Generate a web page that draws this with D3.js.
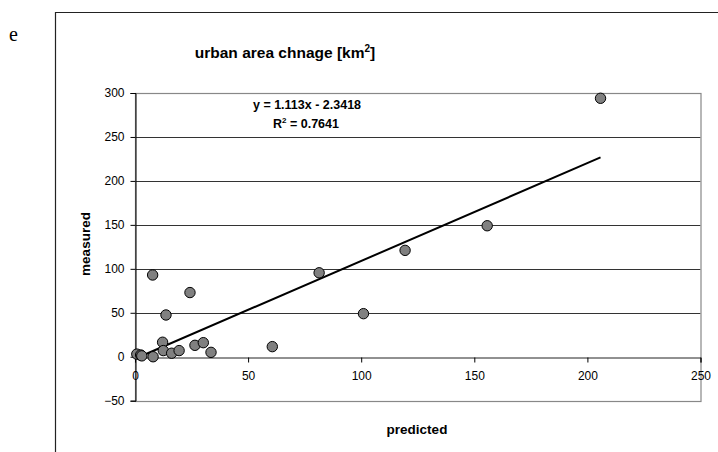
<!DOCTYPE html>
<html><head><meta charset="utf-8">
<script src="https://cdn.jsdelivr.net/npm/d3@7"></script>
<style>body{margin:0;background:#fff}svg{display:block}</style>
</head><body>
<svg id="c" width="718" height="452"></svg>
<script>
const predicted = [0.8, 2.5, 3, 8, 7.8, 24.3, 13.7, 12.2, 12.5, 16.2, 19.5, 26.5, 30.2, 33.6, 60.7, 81.4, 101, 119.4, 155.7, 205.8];
const measured  = [3, 2, 1, 0, 93, 73, 47.5, 16.5, 7, 4, 7, 13, 16, 5, 11.5, 95.5, 49, 121, 149, 294];
const xTicks = [0, 50, 100, 150, 200, 250];
const yTicks = [-50, 0, 50, 100, 150, 200, 250, 300];
const slope = 1.113, intercept = -2.3418, r2 = "0.7641";

const svg = d3.select("#c");
const x = d3.scaleLinear().domain([0, 250]).range([135, 700.5]);
const y = d3.scaleLinear().domain([-50, 300]).range([400.7, 93]);
const font = "Liberation Sans, Arial, sans-serif";

// outer frame
svg.append("path").attr("d", "M55.5,452 L55.5,12.5 L718,12.5").attr("fill","none").attr("stroke","#222").attr("stroke-width",1.2);
svg.append("text").attr("x", 9).attr("y", 41).attr("font-family","Liberation Serif, Times New Roman, serif").attr("font-size", 20).text("e");

// title
const t = svg.append("text").attr("x", 285).attr("y", 58).attr("text-anchor","middle")
  .attr("font-family", font).attr("font-weight","bold").attr("font-size", 15.5);
t.append("tspan").text("urban area chnage [km");
t.append("tspan").attr("dy", -6).attr("font-size", 10).text("2");
t.append("tspan").attr("dy", 6).text("]");

// gridlines
svg.append("g").selectAll("line").data(yTicks.filter(v => v > 0 && v < 300)).join("line")
  .attr("x1", x(0)).attr("x2", x(250)).attr("y1", d => Math.round(y(d))+0.5).attr("y2", d => Math.round(y(d))+0.5)
  .attr("stroke", "#333").attr("stroke-width", 1);
// plot border
svg.append("rect").attr("x", x(0)+0.5).attr("y", Math.round(y(300))+0.5)
  .attr("width", x(250)-x(0)).attr("height", Math.round(y(-50))-Math.round(y(300)))
  .attr("fill","none").attr("stroke","#888").attr("stroke-width",1.2);

// y axis at x=0
const yAxis = d3.axisLeft(y).tickValues(yTicks).tickSize(5).tickPadding(6).tickFormat(d3.format("d"));
const gy = svg.append("g").attr("transform", `translate(${x(0)+0.5},0)`).call(yAxis);
gy.select(".domain").attr("stroke","#000");
gy.selectAll(".tick line").attr("stroke","#000");
gy.selectAll("text").attr("font-family", font).attr("font-size", 12).attr("fill","#000");

// x axis at y=0
const xAxis = d3.axisBottom(x).tickValues(xTicks).tickSize(5).tickPadding(9).tickFormat(d3.format("d"));
const gx = svg.append("g").attr("transform", `translate(0,${Math.round(y(0))+0.5})`).call(xAxis);
gx.select(".domain").attr("stroke","#222");
gx.selectAll(".tick line").attr("stroke","#000");
gx.selectAll("text").attr("font-family", font).attr("font-size", 12).attr("fill","#000");

// trend line
const xmin = d3.min(predicted), xmax = d3.max(predicted);
svg.append("line").attr("x1", x(xmin)).attr("y1", y(slope*xmin+intercept))
  .attr("x2", x(xmax)).attr("y2", y(slope*xmax+intercept))
  .attr("stroke","#000").attr("stroke-width", 2);

// points
svg.append("g").selectAll("circle").data(predicted.map((p,i)=>[p, measured[i]])).join("circle")
  .attr("cx", d => x(d[0])).attr("cy", d => y(d[1])).attr("r", 5.2)
  .attr("fill","#808080").attr("stroke","#000").attr("stroke-width",1);

// equation
svg.append("text").attr("x", 307).attr("y", 109).attr("text-anchor","middle")
  .attr("font-family", font).attr("font-weight","bold").attr("font-size", 12.5)
  .text(`y = ${slope}x - ${Math.abs(intercept)}`);
const r = svg.append("text").attr("x", 306).attr("y", 128).attr("text-anchor","middle")
  .attr("font-family", font).attr("font-weight","bold").attr("font-size", 12.5);
r.append("tspan").text("R");
r.append("tspan").attr("dy", -5).attr("font-size", 8).text("2");
r.append("tspan").attr("dy", 5).text(" = " + r2);

// axis titles
svg.append("text").attr("x", 417).attr("y", 434).attr("text-anchor","middle")
  .attr("font-family", font).attr("font-weight","bold").attr("font-size", 13.5).text("predicted");
svg.append("text").attr("transform","translate(90,244) rotate(-90)").attr("text-anchor","middle")
  .attr("font-family", font).attr("font-weight","bold").attr("font-size", 13.5).text("measured");
</script>
</body></html>
